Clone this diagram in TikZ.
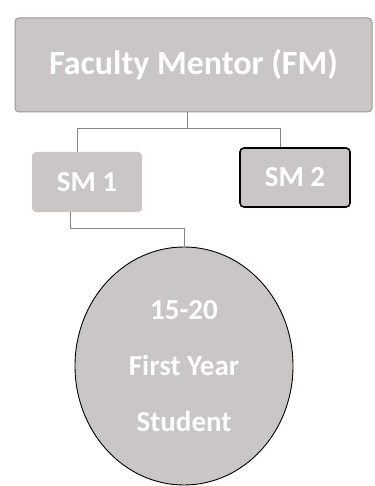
\documentclass[tikz,border=0pt]{standalone}
\usepackage{fontspec}
\setmainfont{Carlito}
\usetikzlibrary{positioning,shapes.geometric}
\definecolor{boxgray}{HTML}{CAC6C6}
\definecolor{linegray}{HTML}{8A8686}
\definecolor{edgegray}{HTML}{9A9696}

\begin{document}
\begin{tikzpicture}[x=1pt, y=-1pt,
  font=\bfseries,
  box/.style={rounded corners=4pt, fill=boxgray, text=white, align=center, inner sep=0pt},
  link/.style={draw=linegray, line width=0.9pt}
]
\useasboundingbox (0,0) rectangle (374,486);
\node[box, draw=edgegray, line width=1pt, minimum width=357pt, minimum height=94pt, font=\bfseries\fontsize{34}{40}\selectfont] (fm) at (193.5,65) {Faculty Mentor (FM)};
\node[box, minimum width=110pt, minimum height=60pt, font=\bfseries\fontsize{29}{34}\selectfont] (sm1) at (87,182) {SM 1};
\node[box, draw=black, line width=1.6pt, minimum width=110pt, minimum height=59pt, font=\bfseries\fontsize{29}{34}\selectfont] (sm2) at (295,177.5) {SM 2};
\node[ellipse, draw=black, line width=0.9pt, fill=boxgray, text=white, align=center, inner sep=0pt, minimum width=218pt, minimum height=238pt, font=\bfseries\fontsize{29}{56}\selectfont] (grp) at (184,366) {15-20\\First Year\\Student};
% tree links
\draw[link] ([xshift=-6.5pt]fm.south) -- ++(0,16) -| ([xshift=-10pt]sm1.north);
\draw[link] ([xshift=-6.5pt]fm.south) -- ++(0,16) -| ([xshift=-15pt]sm2.north);
\draw[link] ([xshift=-17pt]sm1.south) -- ++(0,16) -| (grp.north);
\end{tikzpicture}
\end{document}
